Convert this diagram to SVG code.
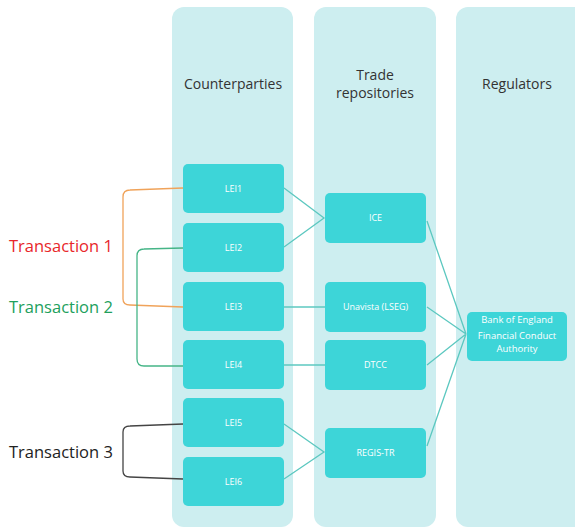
<svg xmlns="http://www.w3.org/2000/svg" width="575" height="527" viewBox="0 0 575 527">
<style>
.col{fill:#cdeef0}
.box{fill:#3dd5d8}
.hdr{font-family:"Open Sans","Liberation Sans",sans-serif;font-size:14px;fill:#333;text-anchor:middle}
.lbl{font-family:"Open Sans","Liberation Sans",sans-serif;font-size:9px;fill:#fff;text-anchor:middle}
.rl{font-size:9.5px}
.tx{font-family:"Open Sans","Liberation Sans",sans-serif;font-size:16.5px}
.conn{fill:none;stroke:#5cc8c0;stroke-width:1.3}
.br{fill:none;stroke-width:1.3}
</style>
<rect width="575" height="527" fill="#fff"/>
<g id="col-counterparties"><rect class="col" x="172" y="7" width="121" height="520" rx="12"/><text class="hdr" x="233" y="89">Counterparties</text></g>
<g id="col-trade-repositories"><rect class="col" x="314" y="7" width="122" height="520" rx="12"/><text class="hdr" x="375" y="80">Trade</text><text class="hdr" x="375" y="98">repositories</text></g>
<g id="col-regulators"><rect class="col" x="456" y="7" width="130" height="520" rx="12"/><text class="hdr" x="517" y="89">Regulators</text></g>
<g id="connectors">
<path class="conn" d="M284,188 L324,218 L284,247"/>
<path class="conn" d="M284,307 H325"/>
<path class="conn" d="M284,365 H325"/>
<path class="conn" d="M284,424 L324,452 L284,479"/>
<path class="conn" d="M427,221 L466,334 M427,307 L466,334 M427,365 L466,334 M427,446 L466,334"/>
<path class="br" stroke="#f0a35a" d="M183,188 L130,190 Q123,190 123,197 L123,299 Q123,305 130,305 L183,307"/>
<path class="br" stroke="#45b587" d="M183,248 L144,249 Q137,249 137,256 L137,359 Q137,366 144,366 L183,366"/>
<path class="br" stroke="#444" d="M183,424 L130,426 Q123,426 123,432 L123,471 Q123,477 130,477 L183,479"/>
</g>
<g id="lei1"><rect class="box" x="183" y="164" width="101" height="49" rx="5"/><text class="lbl" x="233.5" y="192">LEI1</text></g>
<g id="lei2"><rect class="box" x="183" y="223" width="101" height="49" rx="5"/><text class="lbl" x="233.5" y="251">LEI2</text></g>
<g id="lei3"><rect class="box" x="183" y="282" width="101" height="49" rx="5"/><text class="lbl" x="233.5" y="310">LEI3</text></g>
<g id="lei4"><rect class="box" x="183" y="340" width="101" height="49" rx="5"/><text class="lbl" x="233.5" y="368">LEI4</text></g>
<g id="lei5"><rect class="box" x="183" y="398" width="101" height="49" rx="5"/><text class="lbl" x="233.5" y="426">LEI5</text></g>
<g id="lei6"><rect class="box" x="183" y="457" width="101" height="49" rx="5"/><text class="lbl" x="233.5" y="485">LEI6</text></g>
<g id="ice"><rect class="box" x="325" y="193" width="101" height="50" rx="5"/><text class="lbl" x="375.5" y="221">ICE</text></g>
<g id="unavista"><rect class="box" x="325" y="282" width="101" height="50" rx="5"/><text class="lbl" x="375.5" y="310">Unavista (LSEG)</text></g>
<g id="dtcc"><rect class="box" x="325" y="340" width="101" height="50" rx="5"/><text class="lbl" x="375.5" y="368">DTCC</text></g>
<g id="regis-tr"><rect class="box" x="325" y="428" width="101" height="50" rx="5"/><text class="lbl" x="375.5" y="456">REGIS-TR</text></g>
<g id="regulator"><rect class="box" x="467" y="312" width="100" height="49" rx="5"/><text class="lbl rl" x="517" y="323">Bank of England</text><text class="lbl rl" x="517" y="339">Financial Conduct</text><text class="lbl rl" x="517" y="352">Authority</text></g>
<g id="transaction-labels">
<text class="tx" x="9" y="252" fill="#e8262a">Transaction 1</text>
<text class="tx" x="9" y="313" fill="#21a05c">Transaction 2</text>
<text class="tx" x="9" y="458" fill="#222">Transaction 3</text>
</g>
</svg>
